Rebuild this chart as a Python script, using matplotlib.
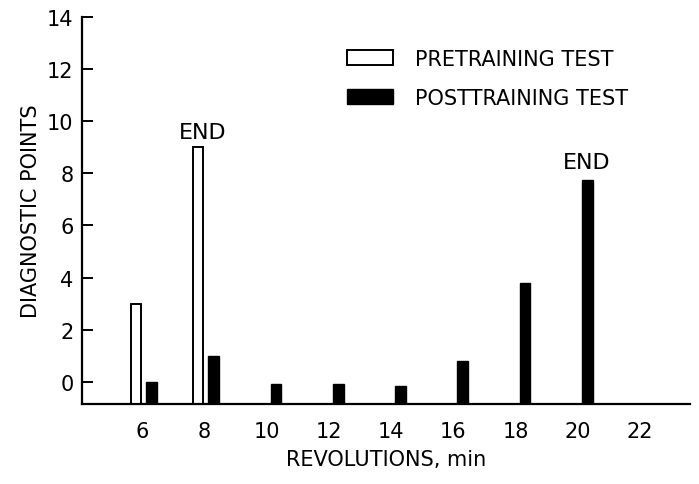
import matplotlib.pyplot as plt

plt.rcParams['font.family'] = ['DejaVu Sans']

revolutions = [6, 8, 10, 12, 14, 16, 18, 20]
pre_x = [6, 8]
pretraining = [3.0, 9.0]
posttraining = [0.0, 1.0, -0.1, -0.1, -0.15, 0.8, 3.8, 7.75]
x_ticks = [6, 8, 10, 12, 14, 16, 18, 20, 22]
y_ticks = [0, 2, 4, 6, 8, 10, 12, 14]

base = -0.85
w = 0.34

fig = plt.figure(figsize=(6.99, 4.85), dpi=100)
ax = fig.add_axes([0.117, 0.165, 0.87, 0.798])

ax.bar([x - 0.2 for x in pre_x], [v - base for v in pretraining], bottom=base,
       width=w, color='white', edgecolor='black', linewidth=1.4,
       label='PRETRAINING TEST')
ax.bar([x + 0.3 for x in revolutions], [v - base for v in posttraining], bottom=base,
       width=w, color='black', edgecolor='black', linewidth=1.0,
       label='POSTTRAINING TEST')

ax.text(7.93, 9.6, 'END', ha='center', va='center', fontsize=16)
ax.text(20.28, 8.44, 'END', ha='center', va='center', fontsize=16)

ax.set_xlim(4.06, 23.6)
ax.set_ylim(base, 14)
ax.set_xticks(x_ticks)
ax.set_yticks(y_ticks)
ax.tick_params(axis='x', length=0, labelsize=15, pad=12)
ax.tick_params(axis='y', direction='in', length=8, width=1.4, labelsize=15, pad=6)
for s in ['top', 'right']:
    ax.spines[s].set_visible(False)
for s in ['left', 'bottom']:
    ax.spines[s].set_linewidth(1.6)

ax.set_xlabel('REVOLUTIONS, min', fontsize=15, labelpad=6)
ax.set_ylabel('DIAGNOSTIC POINTS', fontsize=15, labelpad=4)

ax.legend(loc='upper left', bbox_to_anchor=(347 / 699, 1 - 50 / 485),
          bbox_transform=fig.transFigure, frameon=False, borderpad=0,
          borderaxespad=0, fontsize=15, handlelength=2.2, handleheight=0.72,
          labelspacing=0.9, handletextpad=1.05)

fig.savefig('out.png', dpi=100)
